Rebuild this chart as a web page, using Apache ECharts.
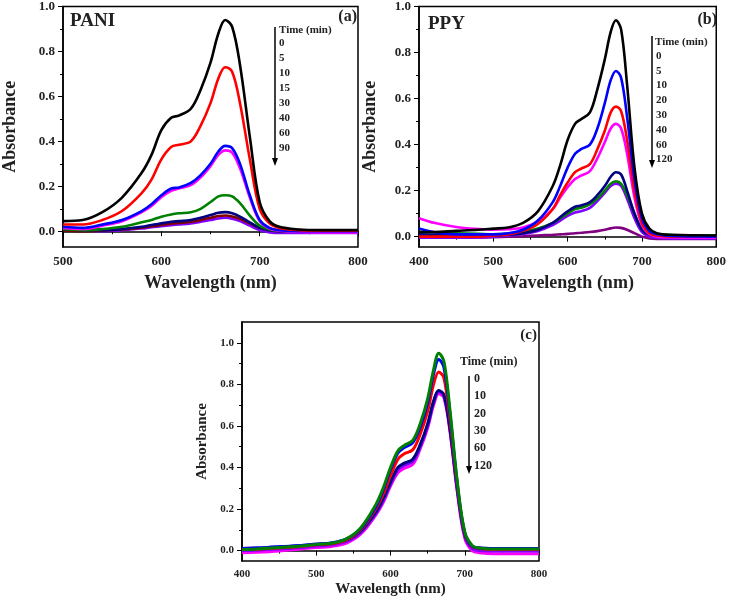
<!DOCTYPE html>
<html><head><meta charset="utf-8">
<script src="https://cdn.jsdelivr.net/npm/echarts@6/dist/echarts.min.js"></script>
<style>html,body{margin:0;padding:0;background:#fff}#c{width:729px;height:599px}</style>
</head><body><div id="c"></div>
<script>
// ---------- Panel (a) PANI ----------
const wlA = [500,520,540,560,580,590,600,610,618,630,640,650,658,665,672,680,690,700,710,720,740,760,800];
const a0  = [0.045,0.05,0.085,0.15,0.26,0.34,0.45,0.505,0.515,0.545,0.63,0.75,0.88,0.94,0.91,0.74,0.42,0.13,0.045,0.02,0.008,0.005,0.005];
const a5  = [0.03,0.03,0.05,0.09,0.17,0.23,0.32,0.375,0.385,0.40,0.47,0.57,0.68,0.73,0.71,0.57,0.32,0.10,0.035,0.015,0.005,0.003,0.003];
const a10 = [0.02,0.015,0.03,0.05,0.09,0.12,0.16,0.19,0.195,0.215,0.25,0.30,0.355,0.38,0.37,0.30,0.16,0.05,0.015,0.005,0.0,0.0,0.0];
const a15 = [0.015,0.01,0.025,0.045,0.085,0.113,0.152,0.18,0.19,0.205,0.24,0.29,0.34,0.36,0.35,0.28,0.15,0.045,0.012,0.003,-0.003,-0.005,-0.005];
const a30 = [0.01,0.005,0.01,0.02,0.04,0.05,0.065,0.075,0.08,0.085,0.10,0.13,0.155,0.16,0.155,0.125,0.07,0.025,0.008,0.003,0.0,0.0,0.0];
const a40 = [0.01,0.005,0.005,0.01,0.02,0.028,0.035,0.042,0.045,0.05,0.06,0.072,0.082,0.085,0.08,0.065,0.04,0.015,0.005,0.0,0.0,0.0,0.0];
const a60 = [0.005,0.0,0.003,0.008,0.016,0.022,0.028,0.034,0.037,0.042,0.05,0.06,0.068,0.07,0.066,0.055,0.035,0.015,0.005,0.0,0.0,0.0,0.0];
const a90 = [0.02,0.005,0.0,0.005,0.012,0.018,0.022,0.027,0.03,0.035,0.042,0.05,0.057,0.06,0.056,0.045,0.025,0.005,-0.005,-0.008,-0.008,-0.008,-0.008];
const timesA = ['0','5','10','15','30','40','60','90'];

// ---------- Panel (b) PPY ----------
const wlB = [400,420,450,480,500,520,540,560,580,590,600,610,618,630,640,650,658,665,672,680,690,700,710,720,740,800];
const b0   = [0.02,0.02,0.025,0.03,0.035,0.04,0.06,0.11,0.22,0.31,0.42,0.49,0.51,0.54,0.64,0.77,0.89,0.94,0.90,0.66,0.30,0.10,0.035,0.015,0.008,0.005];
const b5   = [0.035,0.02,0.01,0.01,0.01,0.015,0.03,0.07,0.15,0.22,0.30,0.36,0.38,0.40,0.47,0.58,0.68,0.72,0.69,0.52,0.25,0.08,0.025,0.01,0.003,0.0];
const b10  = [0.0,0.0,0.0,0.0,0.005,0.01,0.025,0.055,0.12,0.18,0.235,0.28,0.295,0.315,0.38,0.46,0.54,0.565,0.545,0.42,0.20,0.06,0.015,0.005,0.0,0.0];
const b20  = [0.08,0.06,0.042,0.033,0.03,0.032,0.04,0.065,0.12,0.17,0.215,0.25,0.265,0.285,0.34,0.41,0.47,0.49,0.47,0.36,0.17,0.05,0.01,0.0,-0.003,-0.005];
const b30  = [0.01,0.008,0.005,0.005,0.005,0.008,0.015,0.03,0.06,0.085,0.11,0.13,0.135,0.15,0.18,0.22,0.26,0.28,0.27,0.20,0.10,0.03,0.008,0.003,0.0,0.0];
const b40  = [0.02,0.018,0.015,0.012,0.01,0.012,0.02,0.035,0.06,0.08,0.10,0.12,0.125,0.14,0.165,0.20,0.23,0.24,0.23,0.18,0.10,0.035,0.015,0.01,0.007,0.005];
const b60  = [-0.005,-0.005,-0.005,-0.003,0.0,0.005,0.012,0.025,0.05,0.07,0.09,0.105,0.11,0.125,0.155,0.19,0.22,0.23,0.22,0.165,0.08,0.02,0.0,-0.005,-0.008,-0.008];
const b120 = [0.0,-0.002,-0.003,-0.003,-0.002,0.0,0.002,0.005,0.008,0.01,0.012,0.015,0.017,0.02,0.024,0.03,0.036,0.04,0.038,0.03,0.015,0.0,-0.008,-0.01,-0.01,-0.01];
const timesB = ['0','5','10','20','30','40','60','120'];

// ---------- Panel (c) ----------
const wlC = [400,420,450,480,500,520,540,560,580,590,600,610,618,630,640,650,658,665,672,680,690,700,710,720,740,800];
const c0   = [0.005,0.008,0.015,0.022,0.03,0.035,0.055,0.11,0.22,0.30,0.40,0.48,0.505,0.53,0.61,0.73,0.87,0.95,0.91,0.68,0.33,0.09,0.025,0.012,0.008,0.008];
const c10  = [0.01,0.012,0.018,0.025,0.032,0.037,0.055,0.105,0.21,0.29,0.39,0.47,0.495,0.52,0.595,0.71,0.85,0.92,0.88,0.66,0.32,0.085,0.022,0.012,0.01,0.01];
const c20  = [0.005,0.007,0.013,0.02,0.028,0.033,0.05,0.10,0.20,0.27,0.36,0.44,0.465,0.485,0.56,0.67,0.80,0.86,0.83,0.63,0.31,0.08,0.02,0.01,0.006,0.006];
const c30  = [0.01,0.012,0.018,0.025,0.03,0.035,0.05,0.095,0.185,0.25,0.33,0.40,0.42,0.44,0.51,0.61,0.72,0.77,0.75,0.59,0.30,0.08,0.02,0.012,0.01,0.01];
const c60  = [0.0,0.002,0.008,0.015,0.022,0.028,0.043,0.088,0.178,0.24,0.32,0.39,0.41,0.43,0.50,0.60,0.71,0.765,0.745,0.585,0.29,0.07,0.01,0.0,-0.002,-0.002];
const c120 = [-0.01,-0.008,-0.002,0.008,0.015,0.02,0.035,0.08,0.17,0.23,0.31,0.375,0.395,0.415,0.49,0.59,0.70,0.755,0.735,0.575,0.28,0.06,0.0,-0.01,-0.015,-0.015];
const timesC = ['0','10','20','30','60','120'];

const yTicks = [0,0.2,0.4,0.6,0.8,1.0];
const yMinor = [0.1,0.3,0.5,0.7,0.9];

const FONT = 'Liberation Serif';
const zip = (xs, ys) => xs.map((x,i)=>[x, ys[i]]);

const grids = [
  {left:59, top:5, width:299, height:242},
  {left:419, top:5, width:299, height:242},
  {left:242, top:322, width:297, height:239}
];
const panels = [
  {xmin:500, xmax:800, ymin:-0.07, ymax:1.0, xt:[500,600,700,800], xm:[550,650,750], fs:13, ns:18, xGap:27, yGap:44},
  {xmin:400, xmax:800, ymin:-0.045, ymax:1.0, xt:[400,500,600,700,800], xm:[450,550,650,750], fs:13, ns:18, xGap:27, yGap:40},
  {xmin:400, xmax:800, ymin:-0.05, ymax:1.1, xt:[400,500,600,700,800], xm:[450,550,650,750], fs:11, ns:15, xGap:21, yGap:32}
];

const xAxis = [], yAxis = [];
panels.forEach((p,i)=>{
  xAxis.push({type:'value', gridIndex:i, position:'bottom', min:p.xmin, max:p.xmax, name:'Wavelength (nm)', nameLocation:'middle', nameGap:p.xGap,
    nameTextStyle:{fontFamily:FONT, fontWeight:'bold', fontSize:p.ns, color:'#222'},
    axisLine:{lineStyle:{color:'#000', width:1.5}}, splitLine:{show:false},
    axisTick:{customValues:p.xt, length:5, lineStyle:{color:'#000'}},
    axisLabel:{customValues:p.xt, fontFamily:FONT, fontWeight:'bold', fontSize:p.fs, color:'#222', margin:8}});
  xAxis.push({type:'value', gridIndex:i, position:'bottom', offset:0, min:p.xmin, max:p.xmax, axisLine:{show:false}, splitLine:{show:false},
    axisTick:{show:true, customValues:p.xm, length:3, lineStyle:{color:'#000'}}, axisLabel:{show:false}});
  yAxis.push({type:'value', gridIndex:i, position:'left', min:p.ymin, max:p.ymax, name:'Absorbance', nameLocation:'middle', nameGap:p.yGap,
    nameTextStyle:{fontFamily:FONT, fontWeight:'bold', fontSize:p.ns, color:'#222'},
    axisLine:{show:true, lineStyle:{color:'#000', width:1.5}}, splitLine:{show:false},
    axisTick:{show:true, customValues:yTicks, length:5, lineStyle:{color:'#000'}},
    axisLabel:{customValues:yTicks, formatter:v=>v.toFixed(1), fontFamily:FONT, fontWeight:'bold', fontSize:p.fs, color:'#222', margin:8}});
  yAxis.push({type:'value', gridIndex:i, position:'left', offset:0, min:p.ymin, max:p.ymax, axisLine:{show:false}, splitLine:{show:false},
    axisTick:{show:true, customValues:yMinor, length:3, lineStyle:{color:'#000'}}, axisLabel:{show:false}});
});

function line(pi, wl, ys, color, w){
  return {type:'line', xAxisIndex:pi*2, yAxisIndex:pi*2, data:zip(wl, ys), showSymbol:false, smooth:0.35,
    lineStyle:{color:color, width:w||2.6}, itemStyle:{color:color}, silent:true, animation:false};
}
const series = [
  line(0,wlA,a90,'#8000ff'), line(0,wlA,a60,'#800000'), line(0,wlA,a40,'#000080'), line(0,wlA,a30,'#008000'),
  line(0,wlA,a15,'#ff00ff'), line(0,wlA,a10,'#0000ff'), line(0,wlA,a5,'#ff0000'), line(0,wlA,a0,'#000000'),
  line(1,wlB,b120,'#800080'), line(1,wlB,b60,'#8000ff'), line(1,wlB,b40,'#008000'), line(1,wlB,b30,'#000080'),
  line(1,wlB,b20,'#ff00ff'), line(1,wlB,b10,'#ff0000'), line(1,wlB,b5,'#0000ff'), line(1,wlB,b0,'#000000'),
  line(2,wlC,c120,'#ff00ff',3), line(2,wlC,c60,'#8000ff',3), line(2,wlC,c30,'#000080',3), line(2,wlC,c20,'#ff0000',3),
  line(2,wlC,c10,'#0000ff',3), line(2,wlC,c0,'#008000',3)
];

function txt(x,y,s,fs,align){
  return {type:'text', x:x, y:y, style:{text:s, fontFamily:FONT, fontWeight:'bold', fontSize:fs, fill:'#222', align:align||'left', verticalAlign:'middle'}};
}
function arrow(x,y1,y2){
  return [
    {type:'line', shape:{x1:x,y1:y1,x2:x,y2:y2-6}, style:{stroke:'#000', lineWidth:1.5}},
    {type:'polygon', shape:{points:[[x-3,y2-8],[x+3,y2-8],[x,y2]]}, style:{fill:'#000'}}
  ];
}
const graphic = [];
graphic.push(txt(70,21,'PANI',19), txt(357,17,'(a)',16,'right'), txt(279,30,'Time (min)',11));
timesA.forEach((t,i)=>graphic.push(txt(279,43+15*i,t,11)));
graphic.push(...arrow(275,27,166));
graphic.push(txt(428,24,'PPY',19), txt(717,20,'(b)',16,'right'), txt(655,42,'Time (min)',11));
timesB.forEach((t,i)=>graphic.push(txt(656,56+14.8*i,t,11)));
graphic.push(...arrow(652,36,168));
graphic.push(txt(537,335,'(c)',15,'right'), txt(460,362,'Time (min)',12));
timesC.forEach((t,i)=>graphic.push(txt(474,379+17.3*i,t,12)));
graphic.push(...arrow(469,376,474));

const chart = echarts.init(document.getElementById('c'), null, {renderer:'canvas'});
chart.setOption({
  backgroundColor:'#fff', animation:false,
  grid: grids.map(g=>Object.assign({show:true, borderColor:'#000', borderWidth:1.5, backgroundColor:'transparent'}, g)),
  xAxis, yAxis, series, graphic
});
</script></body></html>
